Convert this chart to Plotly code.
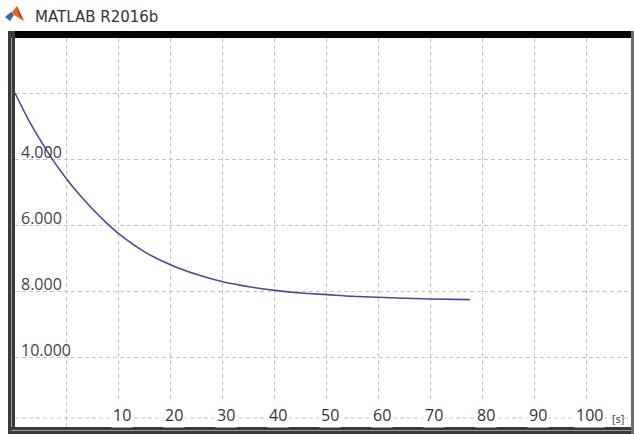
import plotly.graph_objects as go

# ---- data ----
time_s = [-10, -7.5, -5, -2.5, 0, 2.5, 5, 7.5, 10, 15, 20, 25, 30, 35, 40, 45,
          50, 55, 60, 65, 70, 77.5]
response = [2.00, 2.78, 3.46, 4.08, 4.62, 5.10, 5.53, 5.92, 6.27, 6.82, 7.21,
            7.50, 7.72, 7.87, 7.98, 8.06, 8.11, 8.16, 8.19, 8.22, 8.24, 8.26]
x_grid = [0, 10, 20, 30, 40, 50, 60, 70, 80, 90, 100]
x_tick_labels = ["10", "20", "30", "40", "50", "60", "70", "80", "90", "100"]
x_tick_vals = [10, 20, 30, 40, 50, 60, 70, 80, 90, 100]
y_grid = [2, 4, 6, 8, 10]
y_tick_vals = [4, 6, 8, 10]
y_tick_labels = ["4.000", "6.000", "8.000", "10.000"]
x_unit = "[s]"
window_title = "MATLAB R2016b"

W, H = 634, 434
ML, MR, MT, MB = 15, 3, 38, 7
PW, PH = W - ML - MR, H - MT - MB


def px(x):
    return (x - ML) / PW


def py(y):
    return (H - MB - y) / PH


fig = go.Figure()
fig.add_trace(go.Scatter(x=time_s, y=response, mode="lines",
                         line=dict(color="#4a4a98", width=1.6, shape="spline"),
                         hoverinfo="skip", showlegend=False))

grid_col = "#c4c4c4"
fig.update_xaxes(range=[-10, 108.5], tickvals=x_grid, showticklabels=False,
                 showgrid=True, gridcolor=grid_col, griddash="4px,3px", gridwidth=1,
                 zeroline=False, showline=False, ticks="")
fig.update_yaxes(range=[12.12, 0.333], tickvals=y_grid, showticklabels=False,
                 showgrid=True, gridcolor=grid_col, griddash="4px,3px", gridwidth=1,
                 zeroline=False, showline=False, ticks="")

ann = []
for v, lab in zip(y_tick_vals, y_tick_labels):
    ann.append(dict(x=px(19), xref="paper", y=v, yref="y", text=lab,
                    xanchor="left", yanchor="middle", yshift=7, showarrow=False,
                    font=dict(family="Open Sans", size=16, color="#444444")))
for v, lab in zip(x_tick_vals, x_tick_labels):
    ann.append(dict(x=v, xref="x", y=py(415), yref="paper", text=lab,
                    xanchor="center", yanchor="middle", xshift=3, showarrow=False,
                    bgcolor="white", borderpad=1,
                    font=dict(family="Open Sans", size=16, color="#333333")))
ann.append(dict(x=px(610), xref="paper", y=py(418), yref="paper", text=x_unit,
                xanchor="left", yanchor="middle", showarrow=False,
                font=dict(family="Open Sans", size=11, color="#3a3a3a")))
ann.append(dict(x=px(33), xref="paper", y=py(17), yref="paper", text=window_title,
                xanchor="left", yanchor="middle", showarrow=False,
                font=dict(family="DejaVu Sans", size=15, color="#333333")))

shapes = []
# bottom dashed line
shapes.append(dict(type="line", xref="paper", yref="paper", x0=0, x1=1,
                   y0=py(418), y1=py(418),
                   line=dict(color=grid_col, width=1, dash="4px,3px"), layer="below"))
# window frame
shapes.append(dict(type="rect", xref="paper", yref="paper", x0=px(8), x1=px(634),
                   y0=py(31), y1=py(38), fillcolor="#000000", line=dict(width=0)))
shapes.append(dict(type="rect", xref="paper", yref="paper", x0=px(8), x1=px(15),
                   y0=py(434), y1=py(31), fillcolor="#3a3a3a", line=dict(width=0)))
shapes.append(dict(type="rect", xref="paper", yref="paper", x0=px(11), x1=px(12),
                   y0=py(430), y1=py(38), fillcolor="#9a9a9a", line=dict(width=0)))
shapes.append(dict(type="rect", xref="paper", yref="paper", x0=px(8), x1=px(634),
                   y0=py(434), y1=py(427), fillcolor="#3a3a3a", line=dict(width=0)))
shapes.append(dict(type="rect", xref="paper", yref="paper", x0=px(11), x1=px(634),
                   y0=py(431), y1=py(430), fillcolor="#9a9a9a", line=dict(width=0)))
shapes.append(dict(type="rect", xref="paper", yref="paper", x0=px(631), x1=px(634),
                   y0=py(434), y1=py(31), fillcolor="#6a6a6a", line=dict(width=0)))


def path(pts):
    s = "M " + " L ".join(f"{px(a):.5f},{py(b):.5f}" for a, b in pts) + " Z"
    return s


# MATLAB icon
shapes.append(dict(type="path", xref="paper", yref="paper",
                   path=path([(5, 17), (11, 12), (14, 15), (10, 21)]),
                   fillcolor="#2f6fb0", line=dict(width=0)))
shapes.append(dict(type="path", xref="paper", yref="paper",
                   path=path([(11, 13), (17, 6), (24, 21), (19, 18), (14, 15)]),
                   fillcolor="#e0671e", line=dict(width=0)))
shapes.append(dict(type="path", xref="paper", yref="paper",
                   path=path([(17, 6), (20, 13), (24, 21), (19, 15)]),
                   fillcolor="#b8321a", line=dict(width=0)))

fig.update_layout(width=W, height=H, margin=dict(l=ML, r=MR, t=MT, b=MB),
                  paper_bgcolor="white", plot_bgcolor="white",
                  annotations=ann, shapes=shapes, showlegend=False)

fig.write_html("out.html", config={"displayModeBar": False},
               post_script="document.body.style.margin='0';"
                           "document.body.style.padding='0';"
                           "document.body.style.overflow='hidden';")
